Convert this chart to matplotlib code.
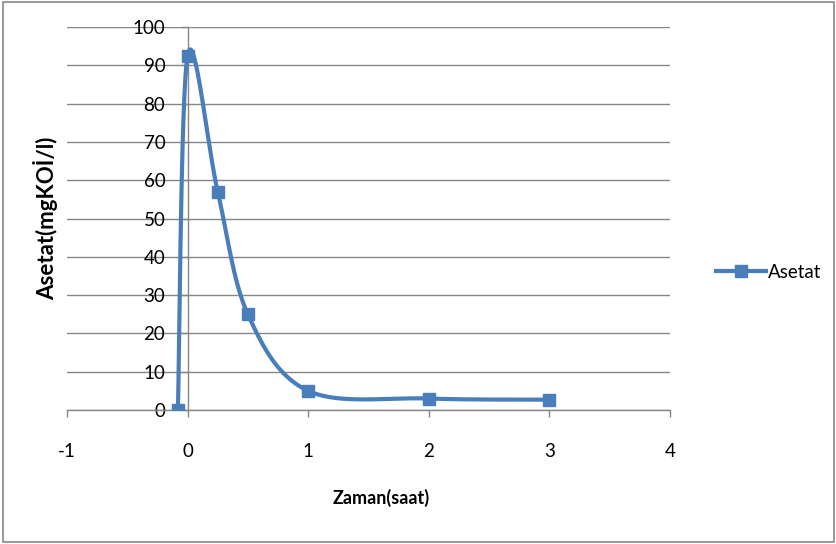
import matplotlib
matplotlib.use('Agg')
import matplotlib.pyplot as plt
import numpy as np
from matplotlib.patches import Rectangle
from matplotlib.lines import Line2D

# data
zaman = [-0.08, 0.0, 0.25, 0.5, 1.0, 2.0, 3.0]
asetat = [0.0, 92.5, 57.0, 25.0, 5.0, 3.0, 2.7]

x_ticks = [-1, 0, 1, 2, 3, 4]
y_ticks = [0, 10, 20, 30, 40, 50, 60, 70, 80, 90, 100]

color = '#4A7EBB'
plt.rcParams['font.family'] = ['Lato', 'DejaVu Sans']
plt.rcParams['axes.unicode_minus'] = False


def smooth(xs, ys, sx=5.0, sy=100.0, n=40):
    # Excel-like smoothed line (Catmull-Rom through the points), in scaled coords
    px = np.array(xs) / sx
    py = np.array(ys) / sy * 0.635
    pts = np.column_stack([px, py])
    pts = np.vstack([pts[0], pts, pts[-1]])
    out = []
    for i in range(1, len(pts) - 2):
        p0, p1, p2, p3 = pts[i - 1], pts[i], pts[i + 1], pts[i + 2]
        c1 = p1 + (p2 - p0) / 6
        c2 = p2 - (p3 - p1) / 6
        t = np.linspace(0, 1, n)[:, None]
        b = ((1 - t) ** 3) * p1 + 3 * ((1 - t) ** 2) * t * c1 + 3 * (1 - t) * t ** 2 * c2 + t ** 3 * p2
        out.append(b)
    out = np.vstack(out)
    return out[:, 0] * sx, out[:, 1] / 0.635 * sy


fig = plt.figure(figsize=(8.37, 5.44), dpi=100)
ax = fig.add_axes([0.080, 0.2463, 0.7204, 0.704])

sx, sy = smooth(zaman, asetat)
ax.plot(sx, sy, color=color, lw=3.0, solid_capstyle='round', zorder=3)
ax.plot(zaman, asetat, ls='none', marker='s', ms=9.2, color=color, zorder=4)

ax.set_xlim(-1, 4)
ax.set_ylim(0, 100)
ax.set_xticks(x_ticks)
ax.set_yticks(y_ticks)
ax.tick_params(labelsize=13.5, colors='#868686', labelcolor='black', length=5, width=1)
ax.tick_params(axis='x', pad=19)
ax.tick_params(axis='y', pad=11)
ax.grid(axis='y', color='#868686', lw=1)
ax.set_axisbelow(True)

ax.spines['left'].set_position(('data', 0))
for s in ['top', 'right']:
    ax.spines[s].set_visible(False)
for s in ['left', 'bottom']:
    ax.spines[s].set_color('#868686')
    ax.spines[s].set_linewidth(1)

ax.set_xlabel('Zaman(saat)', fontsize=13, fontweight='bold')
ax.xaxis.set_label_coords(0.521, -0.205)
ax.set_ylabel('Asetat(mgKOİ/l)', fontsize=16, fontweight='bold')
ax.yaxis.set_label_coords(-0.015, 0.5)

handle = Line2D([], [], color=color, lw=3.0, marker='s', ms=9.2)
fig.legend([handle], ['Asetat'], loc='center left', bbox_to_anchor=(0.835, 0.5),
           frameon=False, fontsize=13.5, handlelength=2.7, handletextpad=0.1)

fig.patches.append(Rectangle((0.003, 0.003), 0.994, 0.994, transform=fig.transFigure,
                             fill=False, edgecolor='#868686', lw=1.2))

fig.savefig('out.png', dpi=100)
